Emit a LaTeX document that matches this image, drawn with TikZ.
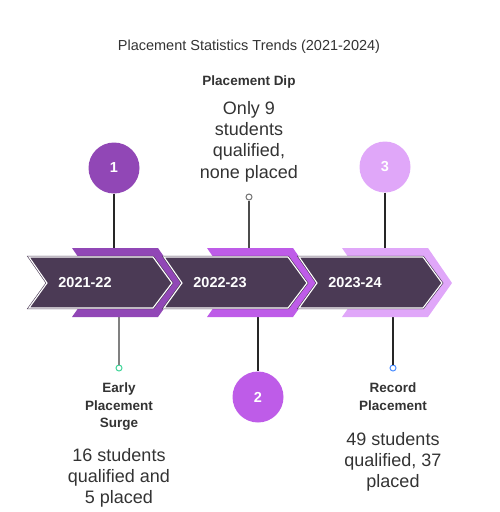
\documentclass[tikz,border=0pt]{standalone}
\usepackage{fontspec}
\setmainfont{Liberation Sans}
\usetikzlibrary{positioning}
\usepackage{xcolor}

\definecolor{bandDark}{HTML}{4B3A55}
\definecolor{stepOne}{HTML}{9147B6}
\definecolor{stepTwo}{HTML}{BE5CE8}
\definecolor{stepThree}{HTML}{E0A7F9}
\definecolor{textGrey}{HTML}{333333}

\begin{document}
\begin{tikzpicture}[x=1pt,y=-1pt,
        band/.style={fill=bandDark, draw=bandDark, line width=0.6pt, double=white, double distance=1.1pt, line join=miter},
        backband/.style={line join=miter},
        yearlbl/.style={font=\fontsize{14.5}{16}\selectfont\bfseries, text=white},
        num/.style={circle, minimum size=51pt, inner sep=0pt, text=white, font=\fontsize{14.5}{16}\selectfont\bfseries},
        stem/.style={line width=1.1pt, draw=black!85},
        marker/.style={circle, draw, fill=white, line width=1pt, minimum size=6pt, inner sep=0pt},
        head/.style={align=center, text=textGrey, font=\fontsize{13.5}{17.5}\selectfont\bfseries},
        body/.style={align=center, text=textGrey, font=\fontsize{18}{21.3}\selectfont}
    ]
        \useasboundingbox (0,0) rectangle (499,512);

        % title
        \node[anchor=base, text=textGrey, font=\fontsize{14.5}{16}\selectfont] (title) at (249,50) {Placement Statistics Trends (2021-2024)};

        % connectors
        \node[num, fill=stepOne] (c1) at (114,168) {1};
        \node[num, fill=stepTwo] (c2) at (258,397) {2};
        \node[num, fill=stepThree] (c3) at (385,167) {3};
        \node[marker, draw=black!55] (m2) at (249,197) {};
        \node[marker, draw={rgb,255:red,62;green,213;blue,152}] (m1) at (119,368) {};
        \node[marker, draw={rgb,255:red,74;green,140;blue,255}] (m3) at (393,368) {};

        \coordinate (t1) at (114,249);
        \coordinate (t2) at (249,249);
        \coordinate (t3) at (385,249);
        \coordinate (b1) at (119,316);
        \coordinate (b2) at (258,316);
        \coordinate (b3) at (393,316);

        \draw[stem] (c1) -- (t1);
        \draw[stem, draw=black!70] (m2) -- (t2);
        \draw[stem] (c3) -- (t3);
        \draw[stem, draw=black!50] (b1) -- (m1);
        \draw[stem] (b2) -- (c2);
        \draw[stem] (b3) -- (m3);

        % chevrons
        \foreach \d/\col in {0/stepOne, 135/stepTwo, 270/stepThree} {
            \fill[backband, \col] (72+\d,248) -- (158+\d,248) -- (182+\d,283) -- (158+\d,317) -- (72+\d,317) -- (96+\d,283) -- cycle;
            \filldraw[band] (29+\d,257) -- (153+\d,257) -- (172+\d,283) -- (153+\d,308) -- (29+\d,308) -- (47+\d,283) -- cycle;
        }

        \node[yearlbl] (y1) at (85,283) {2021-22};
        \node[yearlbl] (y2) at (220,283) {2022-23};
        \node[yearlbl] (y3) at (355,283) {2023-24};

        % labels
        \node[head, anchor=base] (h2) at (249,85) {Placement Dip};
        \node[body, anchor=north, inner sep=0pt] (d2) at (249,101) {Only 9\\students\\qualified,\\none placed};

        \node[head, anchor=north, inner sep=0pt] (h1) at (119,383) {Early\\Placement\\Surge};
        \node[body, anchor=north, inner sep=0pt] (d1) at (119,448) {16 students\\qualified and\\5 placed};

        \node[head, anchor=north, inner sep=0pt] (h3) at (393,383) {Record\\Placement};
        \node[body, anchor=north, inner sep=0pt] (d3) at (393,432) {49 students\\qualified, 37\\placed};
    \end{tikzpicture}
\end{document}
